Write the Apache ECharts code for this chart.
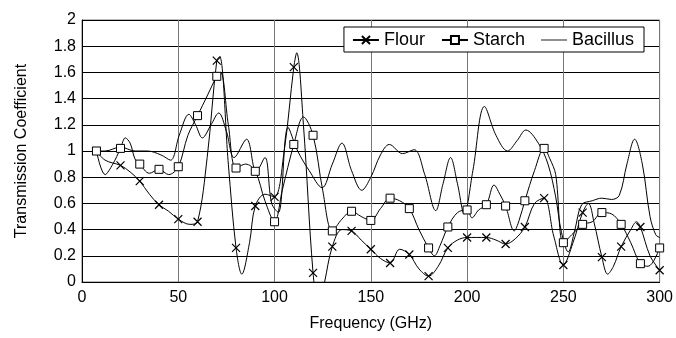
<!DOCTYPE html>
<html>
<head>
<meta charset="utf-8">
<script src="https://cdn.jsdelivr.net/npm/echarts@6/dist/echarts.min.js"></script>
<style>
  html, body { margin: 0; padding: 0; background: #fff; }
  #main { width: 676px; height: 338px; }
</style>
</head>
<body>
<div id="main"></div>
<script>
// frequencies (GHz) where the markers sit
var markFreqs = [7.5, 20, 30, 40, 50, 60, 70, 80, 90, 100, 110, 120, 130, 140, 150,
  160, 170, 180, 190, 200, 210, 220, 230, 240, 250, 260, 270, 280, 290, 300];

// Flour
var flourX = [7.5, 12, 20, 25, 30, 35, 40, 45, 50, 56, 60, 65, 70, 71.5, 76, 80, 83, 87, 90, 95,
  100, 105, 110, 111.5, 115, 120, 123, 126, 130, 135, 140, 145, 150, 155, 160, 165, 170, 175,
  180, 185, 190, 195, 200, 205, 210, 215, 220, 225, 230, 235, 240, 245, 250, 255, 260, 263,
  266, 270, 273, 276, 280, 285, 288, 290, 295, 300];
var flourY = [1.0, 0.93, 0.89, 0.84, 0.77, 0.67, 0.59, 0.54, 0.48, 0.44, 0.46, 0.95, 1.69, 1.72,
  0.9, 0.26, 0.06, 0.3, 0.58, 0.67, 0.65, 1.0, 1.64, 1.75, 1.2, 0.07, -0.2, 0.0, 0.27, 0.40,
  0.39, 0.32, 0.25, 0.18, 0.145, 0.25, 0.21, 0.1, 0.045, 0.12, 0.26, 0.32, 0.34, 0.34, 0.34,
  0.32, 0.29, 0.33, 0.42, 0.6, 0.64, 0.35, 0.13, 0.3, 0.53, 0.6, 0.45, 0.19, 0.06, 0.12, 0.27,
  0.4, 0.46, 0.42, 0.2, 0.09];

// Starch
var starchX = [7.5, 12, 16, 20, 22.5, 25, 27.5, 30, 35, 40, 45, 50, 55, 60, 65, 70, 72, 76, 80,
  85, 90, 95, 100, 104, 110, 115, 120, 125, 130, 135, 140, 145, 150, 155, 160, 165, 170, 175,
  180, 183, 186, 190, 195, 200, 202.5, 206, 210, 214, 217, 220, 224.5, 227, 230, 235, 240,
  243, 246, 250, 255, 260, 265, 270, 275, 280, 285, 290, 294, 300];
var starchY = [1.0, 0.82, 0.9, 1.02, 1.10, 1.06, 0.94, 0.9, 0.83, 0.86, 0.82, 0.88, 1.12, 1.27,
  1.42, 1.57, 1.6, 1.2, 0.87, 0.9, 0.845, 0.62, 0.46, 0.7, 1.05, 1.26, 1.12, 0.7, 0.39, 0.48,
  0.54, 0.5, 0.47, 0.56, 0.64, 0.62, 0.56, 0.4, 0.26, 0.2, 0.28, 0.42, 0.53, 0.55, 0.49, 0.55,
  0.59, 0.74, 0.67, 0.58, 0.39, 0.47, 0.62, 0.85, 1.02, 0.94, 0.82, 0.30, 0.37, 0.44, 0.46,
  0.53, 0.52, 0.44, 0.3, 0.14, 0.12, 0.26];

// Bacillus
var bacX = [7.5, 12, 20, 27.5, 34, 41, 46, 50.5, 55.5, 59, 62.5, 67, 71, 75, 79, 85.5, 90.5, 95,
  98.5, 102, 107, 112, 118, 124.7, 130, 135, 140, 145.3, 150, 155, 159.6, 166.5, 172.5, 178,
  183.7, 187.5, 191.4, 195, 198.5, 203, 209, 215, 221, 226, 230.5, 237, 242, 246, 249, 252.5,
  256, 259.5, 265, 270, 275, 279, 283, 287, 291, 295, 298, 300];
var bacY = [1.0, 1.0, 1.03, 1.0, 1.0, 0.97, 0.93, 1.12, 1.28, 1.2, 1.10, 1.2, 1.29, 1.15, 0.95,
  1.09, 0.84, 0.95, 0.6, 0.53, 1.18, 1.0, 0.85, 0.72, 0.9, 1.06, 0.85, 0.70, 0.8, 0.97, 1.05,
  0.98, 1.01, 0.82, 0.545, 0.75, 0.95, 0.75, 0.52, 0.85, 1.34, 1.12, 1.0, 1.08, 1.16, 1.06,
  0.9, 0.65, 0.38, 0.23, 0.4, 0.59, 0.62, 0.64, 0.63, 0.66, 0.9, 1.09, 0.9, 0.5, 0.36, 0.34];

var crossPath = 'path://M0,0L10,10M10,0L0,10';
// plain dash for the Bacillus legend entry
var dashPath = 'path://M0,4.5L30,4.5L30,5.5L0,5.5Z';

function build(xs, ys, marked) {
  var out = [];
  for (var i = 0; i < xs.length; i++) {
    var item = { value: [xs[i], ys[i]] };
    if (!marked || markFreqs.indexOf(xs[i]) < 0) item.symbol = 'none';
    out.push(item);
  }
  return out;
}

var font = "'Liberation Sans', Arial, sans-serif";
var myChart = echarts.init(document.getElementById('main'));

var option = {
  animation: false,
  backgroundColor: '#fff',
  textStyle: { fontFamily: font },
  grid: {
    left: 82, right: 12, top: 20, bottom: 56,
    show: true, borderColor: '#777', borderWidth: 1
  },
  legend: {
    right: 32, top: 27,
    backgroundColor: '#fff',
    borderColor: '#000', borderWidth: 1, borderRadius: 0,
    padding: [4, 10, 3, 8],
    itemGap: 16, itemWidth: 26, itemHeight: 10,
    textStyle: { fontSize: 18, color: '#000', fontFamily: font },
    data: ['Flour', 'Starch', { name: 'Bacillus', icon: dashPath, itemStyle: { color: '#000' } }]
  },
  xAxis: {
    type: 'value', min: 0, max: 300, interval: 50,
    name: 'Frequency (GHz)', nameLocation: 'middle', nameGap: 34,
    nameTextStyle: { fontSize: 16, color: '#000', fontFamily: font },
    axisLine: { lineStyle: { color: '#000', width: 1 } },
    axisTick: { show: false },
    axisLabel: { fontSize: 16, color: '#000', margin: 8, fontFamily: font },
    splitLine: { lineStyle: { color: '#777', width: 1 } }
  },
  yAxis: {
    type: 'value', min: 0, max: 2, interval: 0.2,
    name: 'Transmission Coefficient', nameLocation: 'middle', nameGap: 52,
    nameTextStyle: { fontSize: 16, color: '#000', fontFamily: font },
    axisLine: { show: true, lineStyle: { color: '#000', width: 1 } },
    axisTick: { show: true, inside: true, length: 4, lineStyle: { color: '#000' } },
    axisLabel: { fontSize: 16, color: '#000', margin: 6, fontFamily: font },
    splitLine: { lineStyle: { color: '#000', width: 1 } }
  },
  series: [
    {
      name: 'Flour', type: 'line', smooth: 0.35, showAllSymbol: true,
      symbol: crossPath, symbolSize: 8,
      itemStyle: { color: 'rgba(0,0,0,0)', borderColor: '#000', borderWidth: 1.2 },
      lineStyle: { color: '#000', width: 1 },
      data: build(flourX, flourY, true)
    },
    {
      name: 'Starch', type: 'line', smooth: 0.35, showAllSymbol: true,
      symbol: 'rect', symbolSize: 8,
      itemStyle: { color: '#fff', borderColor: '#000', borderWidth: 1 },
      lineStyle: { color: '#000', width: 1 },
      data: build(starchX, starchY, true)
    },
    {
      name: 'Bacillus', type: 'line', smooth: 0.35, symbol: 'none',
      itemStyle: { color: '#000' },
      lineStyle: { color: '#000', width: 1 },
      data: build(bacX, bacY, false)
    }
  ]
};

myChart.setOption(option);
</script>
</body>
</html>
